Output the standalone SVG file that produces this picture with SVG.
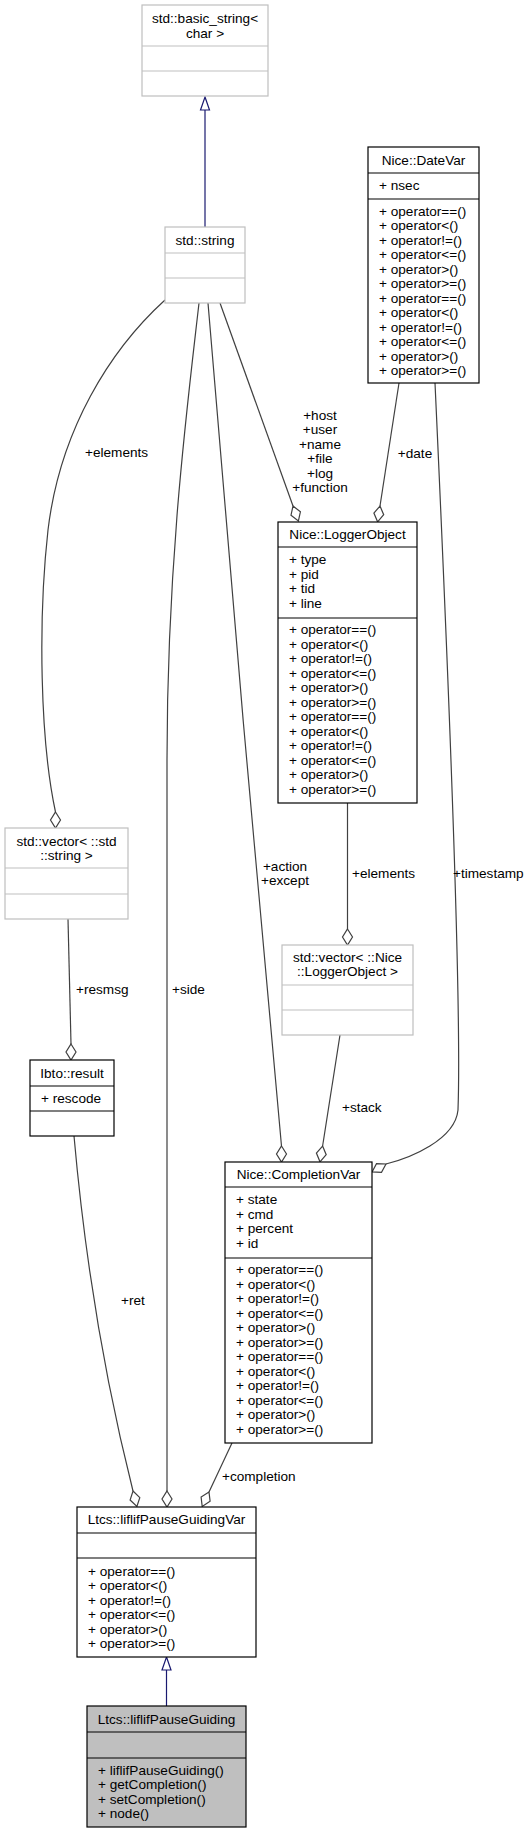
<svg xmlns="http://www.w3.org/2000/svg" width="528" height="1833" viewBox="0 0 528 1833">
<style>
text{font-family:"Liberation Sans",Arial,Helvetica,sans-serif;font-size:13.6px;fill:#000}
.c{text-anchor:middle}
.box{fill:#fff;stroke:#000;stroke-width:1.2}
.gbox{fill:#fff;stroke:#bfbfbf;stroke-width:1.2}
.cur{fill:#bfbfbf;stroke:#000;stroke-width:1.2}
.e{fill:none;stroke:#404040;stroke-width:1.2}
.d{fill:#fff;stroke:#404040;stroke-width:1.2}
.inh{fill:none;stroke:#191970;stroke-width:1.2}
.tri{fill:#fff;stroke:#191970;stroke-width:1.2}
</style>
<rect width="528" height="1833" fill="#fff"/>

<g id="connectors">
  <line class="inh" x1="205" y1="110" x2="205" y2="227"/>
  <polygon class="tri" points="205,97 209.5,110 200.5,110"/>
  <line class="inh" x1="166.5" y1="1670" x2="166.5" y2="1706"/>
  <polygon class="tri" points="166.5,1657 171,1670 162,1670"/>

  <path class="e" d="M165,300 C110,350 60,430 48,530 C38,620 40,740 55.5,812"/>
  <polygon class="d" points="55.5,812 60.5,820 55.5,828 50.5,820"/>

  <path class="e" d="M68,919 L71,1044"/>
  <polygon class="d" points="71,1044 76,1052 71,1060 66,1052"/>

  <path class="e" d="M199,303 C188,400 167,560 167,760 L167,1491"/>
  <polygon class="d" points="167,1491 172,1499 167,1507 162,1499"/>

  <path class="e" d="M208,303 C214,400 275,1080 281.5,1146"/>
  <polygon class="d" points="281.5,1146 286.5,1154 281.5,1162 276.5,1154"/>

  <path class="e" d="M220,303 L293,506"/>
  <polygon class="d" points="293,506 300.4,511.8 298.4,521 291,515.2"/>

  <path class="e" d="M399,383 L380,506"/>
  <polygon class="d" points="380,506 383.7,514.7 377.6,521.8 373.9,513.1"/>

  <path class="e" d="M347.5,803 L347.5,929"/>
  <polygon class="d" points="347.5,929 352.5,937 347.5,945 342.5,937"/>

  <path class="e" d="M340,1035 L322.6,1146"/>
  <polygon class="d" points="322.6,1146 326.2,1154.7 320,1161.8 316.4,1153.1"/>

  <path class="e" d="M435,383 C445,600 462,1000 458,1110 C455,1140 410,1158 386,1164"/>
  <polygon class="d" points="386,1164 381.5,1172.3 372.1,1171.9 376.5,1163.7"/>

  <path class="e" d="M74,1136 C85,1260 105,1380 133,1491"/>
  <polygon class="d" points="133,1491 139.8,1497.6 136.9,1506.5 130.1,1500"/>

  <path class="e" d="M232,1443 L209,1492"/>
  <polygon class="d" points="209,1492 210.1,1501.3 202.2,1506.5 201.1,1497.1"/>

  <text x="85" y="457">+elements</text>
  <text class="c" x="320" y="419.5">+host</text>
  <text class="c" x="320" y="434">+user</text>
  <text class="c" x="320" y="448.5">+name</text>
  <text class="c" x="320" y="463">+file</text>
  <text class="c" x="320" y="477.5">+log</text>
  <text class="c" x="320" y="492">+function</text>
  <text class="c" x="415" y="457.5">+date</text>
  <text class="c" x="285" y="870.5">+action</text>
  <text class="c" x="285" y="885">+except</text>
  <text x="352" y="877.5">+elements</text>
  <text x="453" y="877.5">+timestamp</text>
  <text x="76" y="994">+resmsg</text>
  <text x="172" y="994">+side</text>
  <text x="342" y="1111.5">+stack</text>
  <text x="121" y="1304.5">+ret</text>
  <text x="222" y="1480.5">+completion</text>
</g>

<g id="basic_string">
  <rect class="gbox" x="142" y="5" width="126" height="91"/>
  <line class="gbox" x1="142" y1="46" x2="268" y2="46"/>
  <line class="gbox" x1="142" y1="71" x2="268" y2="71"/>
  <text class="c" x="205" y="23">std::basic_string&lt;</text>
  <text class="c" x="205" y="38">char &gt;</text>
</g>

<g id="std_string">
  <rect class="gbox" x="165" y="227" width="80" height="76"/>
  <line class="gbox" x1="165" y1="253" x2="245" y2="253"/>
  <line class="gbox" x1="165" y1="278" x2="245" y2="278"/>
  <text class="c" x="205" y="244.8">std::string</text>
</g>

<g id="DateVar">
  <rect class="box" x="368" y="147" width="111" height="236"/>
  <line class="box" x1="368" y1="173" x2="479" y2="173"/>
  <line class="box" x1="368" y1="199" x2="479" y2="199"/>
  <text class="c" x="423.5" y="164.8">Nice::DateVar</text>
  <text x="379" y="190">+ nsec</text>
  <text x="379" y="215.5">+ operator==()</text>
  <text x="379" y="230">+ operator&lt;()</text>
  <text x="379" y="244.5">+ operator!=()</text>
  <text x="379" y="259">+ operator&lt;=()</text>
  <text x="379" y="273.5">+ operator&gt;()</text>
  <text x="379" y="288">+ operator&gt;=()</text>
  <text x="379" y="302.5">+ operator==()</text>
  <text x="379" y="317">+ operator&lt;()</text>
  <text x="379" y="331.5">+ operator!=()</text>
  <text x="379" y="346">+ operator&lt;=()</text>
  <text x="379" y="360.5">+ operator&gt;()</text>
  <text x="379" y="375">+ operator&gt;=()</text>
</g>

<g id="LoggerObject">
  <rect class="box" x="278" y="522" width="139" height="281"/>
  <line class="box" x1="278" y1="547" x2="417" y2="547"/>
  <line class="box" x1="278" y1="618" x2="417" y2="618"/>
  <text class="c" x="347.5" y="539">Nice::LoggerObject</text>
  <text x="289" y="564">+ type</text>
  <text x="289" y="578.5">+ pid</text>
  <text x="289" y="593">+ tid</text>
  <text x="289" y="607.5">+ line</text>
  <text x="289" y="634">+ operator==()</text>
  <text x="289" y="648.5">+ operator&lt;()</text>
  <text x="289" y="663">+ operator!=()</text>
  <text x="289" y="677.5">+ operator&lt;=()</text>
  <text x="289" y="692">+ operator&gt;()</text>
  <text x="289" y="706.5">+ operator&gt;=()</text>
  <text x="289" y="721">+ operator==()</text>
  <text x="289" y="735.5">+ operator&lt;()</text>
  <text x="289" y="750">+ operator!=()</text>
  <text x="289" y="764.5">+ operator&lt;=()</text>
  <text x="289" y="779">+ operator&gt;()</text>
  <text x="289" y="793.5">+ operator&gt;=()</text>
</g>

<g id="vector_string">
  <rect class="gbox" x="5" y="828" width="123" height="91"/>
  <line class="gbox" x1="5" y1="868" x2="128" y2="868"/>
  <line class="gbox" x1="5" y1="894" x2="128" y2="894"/>
  <text class="c" x="66.5" y="845.8">std::vector&lt; ::std</text>
  <text class="c" x="66.5" y="859.8">::string &gt;</text>
</g>

<g id="vector_LoggerObject">
  <rect class="gbox" x="282" y="945" width="131" height="90"/>
  <line class="gbox" x1="282" y1="985" x2="413" y2="985"/>
  <line class="gbox" x1="282" y1="1010" x2="413" y2="1010"/>
  <text class="c" x="347.5" y="961.5">std::vector&lt; ::Nice</text>
  <text class="c" x="347.5" y="975.5">::LoggerObject &gt;</text>
</g>

<g id="Ibto_result">
  <rect class="box" x="30" y="1060" width="84" height="76"/>
  <line class="box" x1="30" y1="1086" x2="114" y2="1086"/>
  <line class="box" x1="30" y1="1111" x2="114" y2="1111"/>
  <text class="c" x="72" y="1077.8">Ibto::result</text>
  <text x="41" y="1102.5">+ rescode</text>
</g>

<g id="CompletionVar">
  <rect class="box" x="225" y="1162" width="147" height="281"/>
  <line class="box" x1="225" y1="1187" x2="372" y2="1187"/>
  <line class="box" x1="225" y1="1258" x2="372" y2="1258"/>
  <text class="c" x="298.5" y="1179">Nice::CompletionVar</text>
  <text x="236" y="1204">+ state</text>
  <text x="236" y="1218.5">+ cmd</text>
  <text x="236" y="1233">+ percent</text>
  <text x="236" y="1247.5">+ id</text>
  <text x="236" y="1274">+ operator==()</text>
  <text x="236" y="1288.5">+ operator&lt;()</text>
  <text x="236" y="1303">+ operator!=()</text>
  <text x="236" y="1317.5">+ operator&lt;=()</text>
  <text x="236" y="1332">+ operator&gt;()</text>
  <text x="236" y="1346.5">+ operator&gt;=()</text>
  <text x="236" y="1361">+ operator==()</text>
  <text x="236" y="1375.5">+ operator&lt;()</text>
  <text x="236" y="1390">+ operator!=()</text>
  <text x="236" y="1404.5">+ operator&lt;=()</text>
  <text x="236" y="1419">+ operator&gt;()</text>
  <text x="236" y="1433.5">+ operator&gt;=()</text>
</g>

<g id="liflifPauseGuidingVar">
  <rect class="box" x="77" y="1507" width="179" height="150"/>
  <line class="box" x1="77" y1="1533" x2="256" y2="1533"/>
  <line class="box" x1="77" y1="1558" x2="256" y2="1558"/>
  <text class="c" x="166.5" y="1524.3">Ltcs::liflifPauseGuidingVar</text>
  <text x="88" y="1575.5">+ operator==()</text>
  <text x="88" y="1590">+ operator&lt;()</text>
  <text x="88" y="1604.5">+ operator!=()</text>
  <text x="88" y="1619">+ operator&lt;=()</text>
  <text x="88" y="1633.5">+ operator&gt;()</text>
  <text x="88" y="1648">+ operator&gt;=()</text>
</g>

<g id="liflifPauseGuiding">
  <rect class="cur" x="87" y="1706" width="159" height="121"/>
  <line class="cur" x1="87" y1="1732" x2="246" y2="1732"/>
  <line class="cur" x1="87" y1="1758" x2="246" y2="1758"/>
  <text class="c" x="166.5" y="1723.5">Ltcs::liflifPauseGuiding</text>
  <text x="98" y="1774.8">+ liflifPauseGuiding()</text>
  <text x="98" y="1789.3">+ getCompletion()</text>
  <text x="98" y="1803.8">+ setCompletion()</text>
  <text x="98" y="1818.3">+ node()</text>
</g>
</svg>
